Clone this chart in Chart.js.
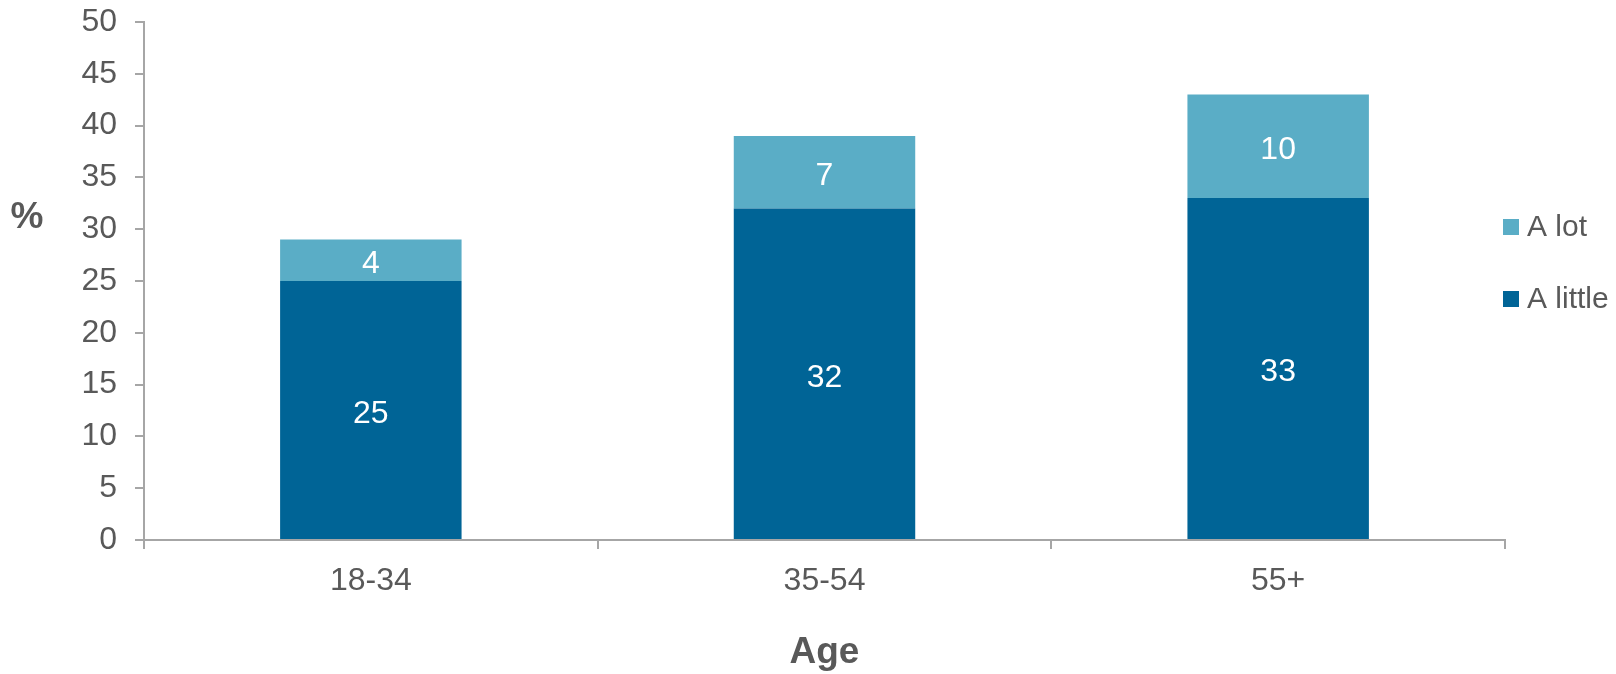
<!DOCTYPE html>
<html>
<head>
<meta charset="utf-8">
<script src="https://cdn.jsdelivr.net/npm/chart.js@4/dist/chart.umd.min.js"></script>
<style>
  html, body { margin: 0; padding: 0; background: #ffffff; }
  #wrap { position: relative; width: 1616px; height: 674px; }
</style>
</head>
<body>
<div id="wrap"><canvas id="c" width="1616" height="674"></canvas></div>
<script>
const categories = ['18-34', '35-54', '55+'];
const aLittle = [25, 32, 33];
const aLot = [4, 7, 10];
const seriesNames = ['A little', 'A lot'];
const yTicks = [0, 5, 10, 15, 20, 25, 30, 35, 40, 45, 50];
const xTitle = 'Age';
const yTitle = '%';

const FONT = '"Liberation Sans", Arial, sans-serif';
const TEXT = '#595959';
const AXIS = '#a6a6a6';
const DARK = '#006496';
const LIGHT = '#5aadc6';

const labelsPlugin = {
  id: 'customText',
  afterDatasetsDraw(chart) {
    const ctx = chart.ctx;
    ctx.save();
    ctx.font = '32px ' + FONT;
    ctx.fillStyle = '#ffffff';
    ctx.textAlign = 'center';
    ctx.textBaseline = 'middle';
    chart.data.datasets.forEach((ds, i) => {
      const meta = chart.getDatasetMeta(i);
      meta.data.forEach((bar, j) => {
        const p = bar.getProps(['x', 'y', 'base'], true);
        ctx.fillText(String(ds.data[j]), p.x, (p.y + p.base) / 2 + 4);
      });
    });
    ctx.restore();
  },
  afterDraw(chart) {
    const ctx = chart.ctx;
    ctx.save();
    ctx.font = 'bold 37px ' + FONT;
    ctx.fillStyle = TEXT;
    ctx.textAlign = 'center';
    ctx.textBaseline = 'middle';
    ctx.fillText(yTitle, 27, 218);
    ctx.font = '30px ' + FONT;
    ctx.textAlign = 'left';
    const items = chart.data.datasets.map((d) => ({ text: d.label, color: d.backgroundColor })).reverse();
    const ys = [227, 299];
    items.forEach((it, k) => {
      ctx.fillStyle = it.color;
      ctx.fillRect(1503, ys[k] - 8, 16, 16);
      ctx.fillStyle = TEXT;
      ctx.fillText(it.text, 1527, ys[k] + 1);
    });
    ctx.restore();
  }
};

new Chart(document.getElementById('c'), {
  type: 'bar',
  data: {
    labels: categories,
    datasets: [
      { label: seriesNames[0], data: aLittle, backgroundColor: DARK, barPercentage: 0.4, categoryPercentage: 1.0 },
      { label: seriesNames[1], data: aLot, backgroundColor: LIGHT, barPercentage: 0.4, categoryPercentage: 1.0 }
    ]
  },
  options: {
    responsive: false,
    animation: false,
    devicePixelRatio: 1,
    layout: { padding: { left: 0, right: 111, top: 22, bottom: 0 } },
    plugins: { legend: { display: false }, tooltip: { enabled: false } },
    scales: {
      x: {
        stacked: true,
        grid: { display: true, drawOnChartArea: false, offset: true, tickLength: 9, color: AXIS, lineWidth: 2 },
        border: { display: true, color: AXIS, width: 2 },
        ticks: { color: TEXT, font: { family: FONT, size: 32 }, padding: 13 },
        title: { display: true, text: xTitle, color: TEXT, font: { family: FONT, size: 37, weight: 'bold' }, padding: { top: 0, bottom: -1 } },
        afterFit(s) { s.height = 134; s.paddingLeft = 0; s.paddingRight = 0; }
      },
      y: {
        stacked: true,
        min: 0, max: 50,
        afterBuildTicks(s) { s.ticks = yTicks.map(v => ({ value: v })); },
        grid: { display: true, drawOnChartArea: false, tickLength: 9, color: AXIS, lineWidth: 2 },
        border: { display: true, color: AXIS, width: 2 },
        ticks: { color: TEXT, font: { family: FONT, size: 32 }, padding: 18 },
        afterFit(s) { s.width = 144; s.paddingTop = 0; s.paddingBottom = 0; }
      }
    }
  },
  plugins: [labelsPlugin]
});
</script>
</body>
</html>
